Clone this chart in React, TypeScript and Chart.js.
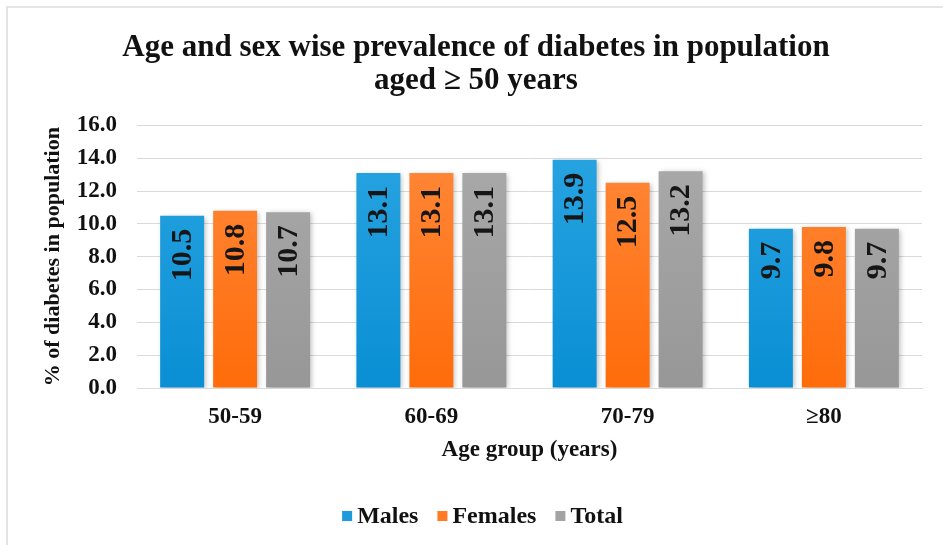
import React, { useEffect, useRef } from "react";
import { Chart, registerables } from "chart.js";

Chart.register(...registerables);

const categories = ["50-59", "60-69", "70-79", "≥80"];
const seriesNames = ["Males", "Females", "Total"];
const males = [10.5, 13.1, 13.9, 9.7];
const females = [10.8, 13.1, 12.5, 9.8];
const totals = [10.7, 13.1, 13.2, 9.7];
const titleLines = ["Age and sex wise prevalence of diabetes in population", "aged ≥ 50 years"];
const yTitle = "% of diabetes in population";
const xTitle = "Age group (years)";

const colorTop = ["#2aa5e2", "#ff8a3d", "#ababab"];
const colorBottom = ["#0a8fd4", "#ff6c0a", "#979797"];
const swatch = ["#1e9bdc", "#ff7a22", "#a3a3a3"];

const SERIF = '"Liberation Serif", "Times New Roman", serif';

function grad(i: number) {
  return (ctx: any) => {
    const chart = ctx.chart;
    const area = chart.chartArea;
    if (!area) return colorBottom[i];
    const g = chart.ctx.createLinearGradient(0, area.top, 0, area.bottom);
    g.addColorStop(0, colorTop[i]);
    g.addColorStop(1, colorBottom[i]);
    return g;
  };
}

const barExtras = {
  id: "barExtras",
  beforeDatasetsDraw(chart: any) {
    const ctx = chart.ctx;
    ctx.save();
    ctx.shadowColor = "rgba(0,0,0,0.25)";
    ctx.shadowBlur = 5;
    ctx.shadowOffsetX = 2;
    ctx.shadowOffsetY = 1;
  },
  afterDatasetsDraw(chart: any) {
    const ctx = chart.ctx;
    ctx.restore();
    ctx.save();
    ctx.font = `bold 30px ${SERIF}`;
    ctx.fillStyle = "#161616";
    ctx.textAlign = "right";
    ctx.textBaseline = "middle";
    chart.data.datasets.forEach((ds: any, di: number) => {
      const meta = chart.getDatasetMeta(di);
      meta.data.forEach((bar: any, i: number) => {
        const v = ds.data[i];
        ctx.save();
        ctx.translate(bar.x, bar.y + 13);
        ctx.rotate(-Math.PI / 2);
        ctx.fillText(v.toFixed(1), 0, 1);
        ctx.restore();
      });
    });
    ctx.restore();
  },
  afterDraw(chart: any) {
    const ctx = chart.ctx;
    ctx.save();
    ctx.font = `bold 24px ${SERIF}`;
    ctx.textBaseline = "middle";
    ctx.textAlign = "left";
    const box = 10;
    const gapBox = 5;
    const gapItem = 19;
    const names = chart.data.datasets.map((d: any) => d.label);
    const widths = names.map((n: string) => box + gapBox + ctx.measureText(n).width);
    const total = widths.reduce((a: number, b: number) => a + b, 0) + gapItem * (names.length - 1);
    let x = chart.width / 2 + 11 - total / 2;
    const y = 516;
    names.forEach((n: string, i: number) => {
      ctx.fillStyle = swatch[i];
      ctx.fillRect(x, y - box / 2, box, box);
      ctx.fillStyle = "#111";
      ctx.fillText(n, x + box + gapBox, y + 1);
      x += widths[i] + gapItem;
    });
    ctx.restore();
  },
};

export default function App() {
  const ref = useRef<HTMLCanvasElement | null>(null);
  useEffect(() => {
    if (!ref.current) return;
    const data = [males, females, totals];
    const chart = new Chart(ref.current, {
      type: "bar",
      data: {
        labels: categories,
        datasets: seriesNames.map((name, i) => ({
          label: name,
          data: data[i],
          backgroundColor: grad(i),
          borderWidth: 0,
          categoryPercentage: 0.81,
          barPercentage: 0.83,
        })),
      },
      options: {
        animation: false,
        responsive: false,
        maintainAspectRatio: false,
        layout: { padding: { left: 30, right: 21, top: 0, bottom: 57 } },
        plugins: {
          legend: { display: false },
          tooltip: { enabled: false },
          title: {
            display: true,
            text: titleLines,
            color: "#111",
            font: { family: SERIF, size: 31, weight: "bold", lineHeight: 1.07 },
            padding: { top: 31, bottom: 28 },
          },
        },
        scales: {
          x: {
            grid: { display: false, drawTicks: false },
            border: { display: true, color: "#d9d9d9" },
            ticks: {
              color: "#111",
              padding: 15,
              font: { family: SERIF, size: 23, weight: "bold" },
            },
            title: {
              display: true,
              text: xTitle,
              color: "#111",
              font: { family: SERIF, size: 23, weight: "bold" },
              padding: { top: 0, bottom: 24 },
            },
            afterFit(scale: any) {
              scale.height = 100;
            },
          },
          y: {
            min: 0,
            max: 16,
            grid: { color: "#d9d9d9", lineWidth: 1, drawTicks: false },
            border: { display: false },
            ticks: {
              stepSize: 2,
              color: "#111",
              padding: 20,
              font: { family: SERIF, size: 23, weight: "bold" },
              callback: (v: any) => Number(v).toFixed(1),
            },
            title: {
              display: true,
              text: yTitle,
              color: "#111",
              font: { family: SERIF, size: 22, weight: "bold" },
              padding: { top: 10, bottom: 0 },
            },
            afterFit(scale: any) {
              scale.width = 107;
            },
          },
        },
      },
      plugins: [barExtras],
    });
    return () => chart.destroy();
  }, []);

  return (
    <div style={{ position: "fixed", left: 0, top: 0, width: 943, height: 545, background: "#fff", overflow: "hidden" }}>
      <div
        style={{
          position: "absolute",
          left: 6,
          top: 6,
          width: 960,
          height: 560,
          border: "2px solid #e4e4e4",
          boxSizing: "border-box",
        }}
      />
      <canvas ref={ref} width={943} height={545} style={{ position: "absolute", left: 0, top: 0 }} />
    </div>
  );
}
